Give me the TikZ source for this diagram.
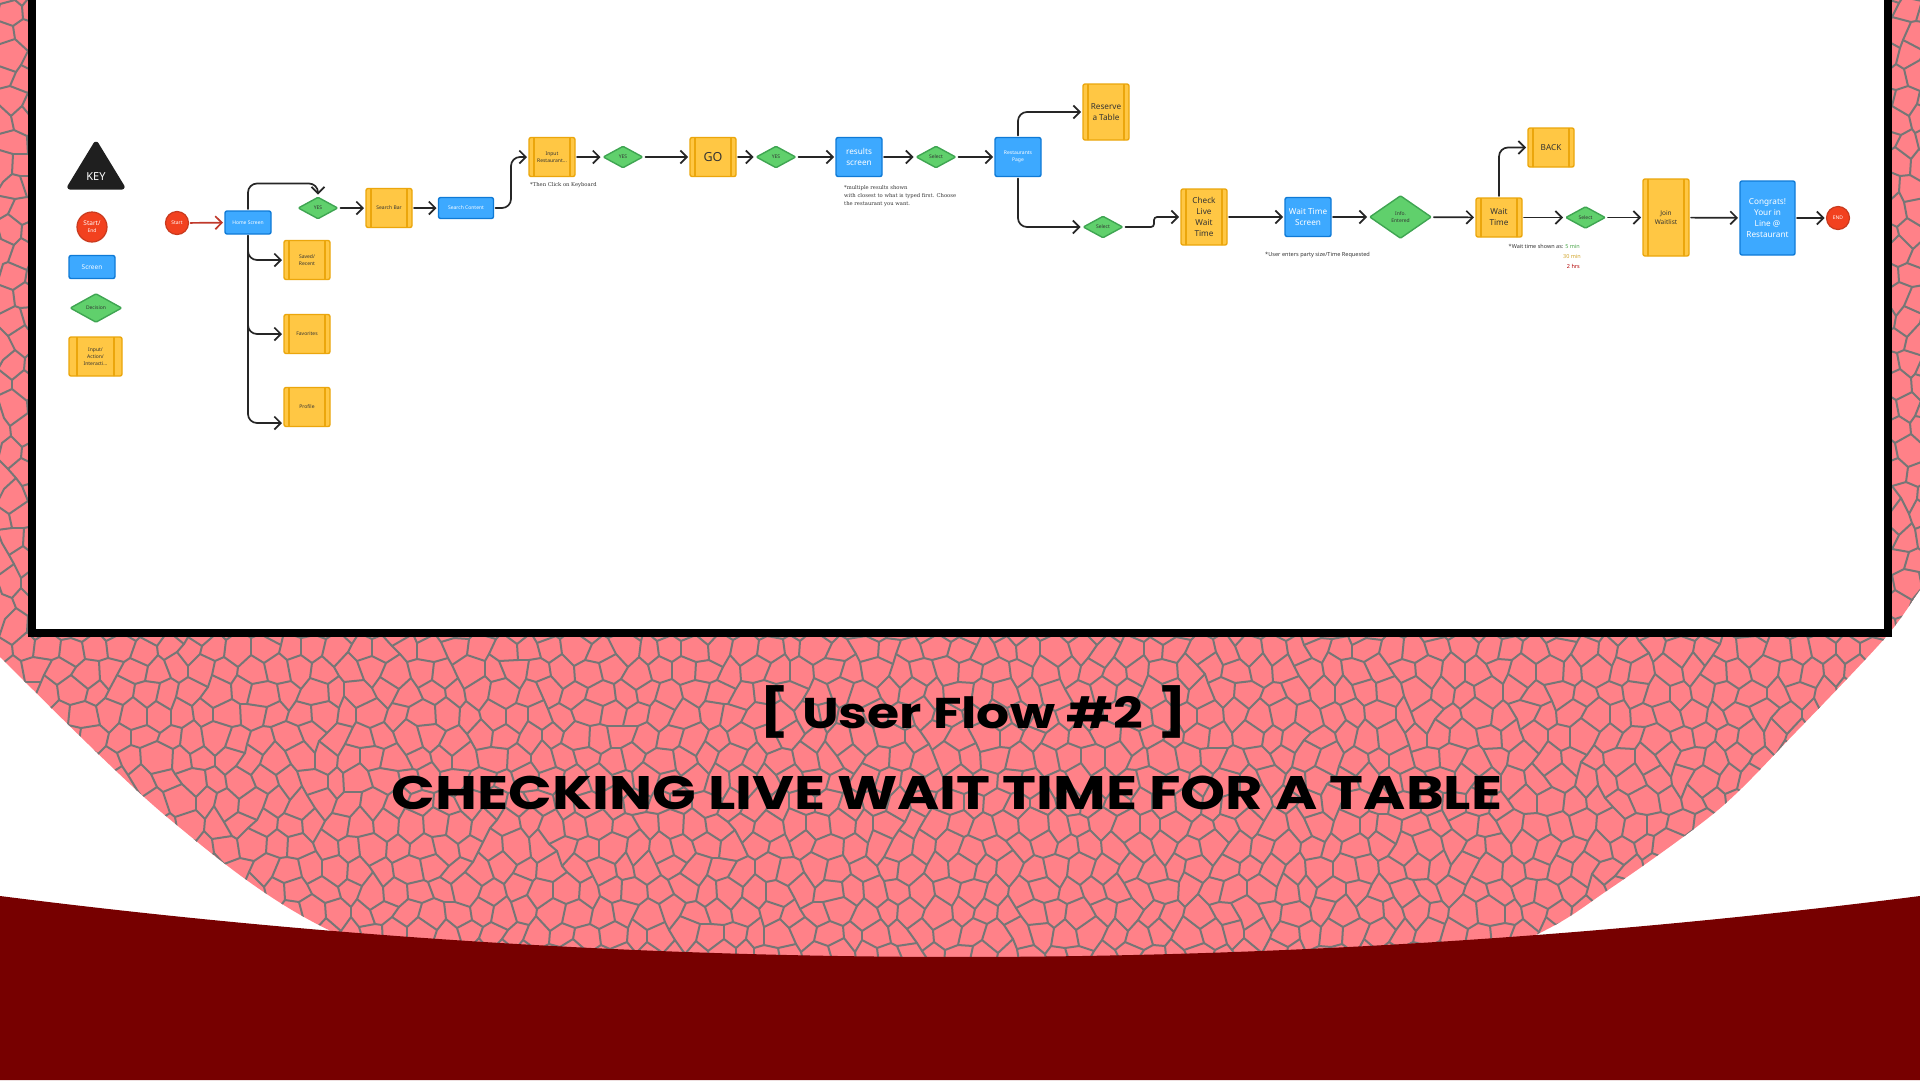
\documentclass[tikz,border=0pt]{standalone}
\usepackage{fontspec}
\setmainfont{Noto Sans}
\newfontfamily\notefont{DejaVu Serif}
\newfontfamily\titlefont{Poppins}
\usetikzlibrary{arrows.meta,shapes.geometric}

\definecolor{cellpink}{HTML}{FF8188}
\definecolor{cellgrey}{HTML}{767676}
\definecolor{darkred}{HTML}{770000}
\definecolor{inputfill}{HTML}{FFC744}
\definecolor{inputedge}{HTML}{EBA60C}
\definecolor{screenfill}{HTML}{3DA9FF}
\definecolor{screenedge}{HTML}{0F7AD6}
\definecolor{decidefill}{HTML}{60D06C}
\definecolor{decideedge}{HTML}{3FA552}
\definecolor{endfill}{HTML}{F2411F}
\definecolor{endedge}{HTML}{C93A1E}
\definecolor{arrowred}{HTML}{C0392B}

% jittered corner of one cell of the mesh
\newcommand{\hashA}[2]{((#1)*(#1)*(#1)*3+(#2)*(#2)*(#2)*7+(#1)*(#2)*11+(#1)*(#1)*(#2)*5+(#1)*29+(#2)*53)}
\newcommand{\hashB}[2]{((#1)*(#1)*(#1)*5+(#2)*(#2)*(#2)*3+(#1)*(#2)*23+(#1)*(#2)*(#2)*7+(#1)*41+(#2)*17)}
\newcommand{\meshx}[2]{\the\numexpr (#1)*12+(\hashA{#1}{#2}-\hashA{#1}{#2}/97*97)/10\relax}
\newcommand{\meshy}[2]{\the\numexpr (#2)*22\ifodd\numexpr(#1)+(#2)\relax-4\else+4\fi
  +(\hashB{#1}{#2}-\hashB{#1}{#2}/97*97)/12\relax}
\newcommand{\meshedges}[2]{%
  \draw[meshline] (\meshx{#1}{#2},\meshy{#1}{#2}) -- (\meshx{(#1+1)}{#2},\meshy{(#1+1)}{#2});
  \ifodd\numexpr#1+#2\relax\else
    \draw[meshline] (\meshx{#1}{#2},\meshy{#1}{#2}) -- (\meshx{#1}{(#2+1)},\meshy{#1}{(#2+1)});
  \fi}

\tikzset{
  meshline/.style={draw=cellgrey,line width=2pt,line join=round},
  boxbase/.style={rounded corners=2pt,line width=1.4pt,inner sep=0pt,outer sep=2pt,
    align=center,minimum width=46pt,minimum height=39pt},
  screenbox/.style={boxbase,fill=screenfill,draw=screenedge,text=white},
  inputbox/.style={boxbase,fill=inputfill,draw=inputedge,text=black!80,
    path picture={
      \draw[inputedge,line width=1.4pt]
        ([xshift=#1pt]path picture bounding box.north west) --
        ([xshift=#1pt]path picture bounding box.south west)
        ([xshift=-#1pt]path picture bounding box.north east) --
        ([xshift=-#1pt]path picture bounding box.south east);}},
  inputbox/.default=5,
  decidebox/.style={diamond,aspect=1.75,rounded corners=1pt,line width=1.4pt,inner sep=0pt,
    outer sep=2pt,align=center,fill=decidefill,draw=decideedge,text=black!80,
    minimum width=41pt,minimum height=23pt},
  endcircle/.style={circle,line width=1.2pt,inner sep=0pt,outer sep=2pt,align=center,
    fill=endfill,draw=endedge,text=white,minimum size=23pt},
  tinytext/.style={font=\fontsize{5}{7}\selectfont},
  midtext/.style={font=\fontsize{6.5}{8.5}\selectfont},
  bigtext/.style={font=\fontsize{8.2}{11}\selectfont},
  flowarrow/.style={draw=black!85,line width=1.7pt,rounded corners=9pt,
    -{Straight Barb[length=6.5pt,width=13pt,line width=1.7pt]}},
  notetext/.style={font=\notefont\fontsize{5.25}{8.3}\selectfont,align=left,text=black!80,inner sep=0pt},
  waittext/.style={font=\fontsize{5.5}{7}\selectfont,anchor=east,inner sep=0pt},
  titletext/.style={font=\titlefont\bfseries,xscale=#1,transform shape},
}

\begin{document}
\begin{tikzpicture}[x=1pt,y=-1pt,line cap=round,line join=round]
  \useasboundingbox (0,0) rectangle (1920,1080);

  % Backdrop: cracked pink disc, frame and dark floor.
  \begin{scope}
    \clip plot[smooth] coordinates {(-30,625) (0,657) (167,817) (333,932) (640,1040)
      (960,1080) (1280,1040) (1525,940) (1608,890) (1718,810) (1795,733) (1885,638)
      (1920,590) (1950,550)} -- (1950,-10) -- (-30,-10) -- cycle;
    \fill[cellpink] (-30,-10) rectangle (1950,1080);
    \foreach \j in {27,...,44} {
      \foreach \i in {0,...,160} {\meshedges{\i}{\j}}
    }
    \foreach \j in {-1,...,26} {
      \foreach \i in {0,1,2,3,157,158,159,160} {\meshedges{\i}{\j}}
    }
  \end{scope}
  \fill[white,draw=black,line width=8pt,line join=miter] (32,-20) rectangle (1888,633);
  \fill[darkred] (0,896) .. controls (640,977.3) and (1280,977.3) .. (1920,896)
    -- (1920,1080) -- (0,1080) -- cycle;

  % Titles
  \node[titletext=1.21] (flowtitle) at (972.5,713) {\fontsize{43}{50}\selectfont User Flow \#2};
  \node[titletext=1.25] (leftbracket) at (774,712) {\fontsize{47}{50}\selectfont [};
  \node[titletext=1.25] (rightbracket) at (1172,712) {\fontsize{47}{50}\selectfont ]};
  \node[titletext=1.22] (tasktitle) at (947,793) {\fontsize{47}{50}\selectfont CHECKING LIVE WAIT TIME FOR A TABLE};

  % Key
  \fill[black!88,draw=black!88,line width=3pt,rounded corners=2pt] (96,142) -- (124,188) -- (68,188) -- cycle;
  \node[text=white,font=\fontsize{11}{13}\selectfont] (keylabel) at (96,177) {KEY};
  \node[endcircle,minimum size=30pt,tinytext] (keyend) at (92,227) {{\fontsize{6.5}{8}\selectfont Start/}\\End};
  \node[screenbox,minimum height=23pt,midtext] (keyscreen) at (92,267) {Screen};
  \node[decidebox,minimum width=53pt,minimum height=30pt,tinytext] (keydecide) at (96,308) {Decision};
  \node[inputbox=8,minimum width=53pt,tinytext] (keyinput) at (95.5,356.5) {Input/\\Action/\\Interacti...};

  % Flow: entry and home branches
  \node[endcircle,tinytext] (start) at (177,223) {Start};
  \node[screenbox,minimum height=23pt,tinytext] (home) at (248,222.5) {Home Screen};
  \node[decidebox,tinytext] (yesa) at (318,208) {YES};
  \node[inputbox,tinytext] (searchbar) at (389,208) {Search Bar};
  \node[screenbox,minimum width=55pt,minimum height=21pt,tinytext] (content) at (466,208) {Search Content};
  \node[inputbox,tinytext] (saved) at (307,260) {Saved/\\Recent};
  \node[inputbox,tinytext] (favorites) at (307,334) {Favorites};
  \node[inputbox,tinytext] (profile) at (307,407) {Profile};

  % Flow: search row
  \node[inputbox,tinytext] (input) at (552,157) {Input\\Restaurant...};
  \node[decidebox,tinytext] (yesb) at (623,157) {YES};
  \node[inputbox,font=\fontsize{12.5}{14}\selectfont] (go) at (713,157) {GO};
  \node[decidebox,tinytext] (yesc) at (776,157) {YES};
  \node[screenbox,bigtext] (results) at (859,157) {results\\screen};
  \node[decidebox,tinytext] (selecta) at (936,157) {Select};
  \node[screenbox,tinytext] (restaurant) at (1018,157) {Restaurants\\Page};
  \node[inputbox,minimum height=56pt,bigtext] (reserve) at (1106,112) {Reserve\\a Table};

  % Flow: wait time row
  \node[decidebox,tinytext] (selectb) at (1103,227) {Select};
  \node[inputbox,minimum height=56pt,bigtext] (check) at (1204,217) {Check\\Live\\Wait\\Time};
  \node[screenbox,bigtext] (waitscreen) at (1308,217) {Wait Time\\Screen};
  \node[decidebox,minimum width=63pt,minimum height=44pt,tinytext] (info) at (1400.5,217) {Info.\\Entered};
  \node[inputbox,bigtext] (waittime) at (1499,217.5) {Wait\\Time};
  \node[inputbox,bigtext] (back) at (1551,147.5) {BACK};
  \node[decidebox,tinytext] (selectc) at (1585.5,217.5) {Select};
  \node[inputbox,minimum height=77pt,midtext] (join) at (1666,217.5) {Join\\Waitlist};
  \node[screenbox,minimum width=55pt,minimum height=74pt,bigtext] (congrats) at (1767.5,218) {Congrats!\\Your in\\Line @\\Restaurant};
  \node[endcircle,tinytext] (finish) at (1838,218) {END};

  % Notes
  \node[notetext,anchor=west] (keyboardnote) at (530,185) {*Then Click on Keyboard};
  \node[notetext,anchor=north west] (resultsnote) at (844,185)
    {*multiple results shown\\with closest to what is typed first. Choose\\the restaurant you want.};
  \node[anchor=west,inner sep=0pt,font=\fontsize{5.6}{7}\selectfont,text=black!80] (partynote) at (1265,255.5)
    {*User enters party size/Time Requested};
  \node[waittext,text=black!80] (waitnote) at (1580,246.5) {*Wait time shown as: {\color{green!50!black!70}5 min}};
  \node[waittext,text=brown!70!yellow] (waitmid) at (1581,256) {30 min};
  \node[waittext,text=red!70!black] (waitlong) at (1580,266) {2 hrs};

  % Connectors
  \draw[flowarrow,draw=arrowred] (start) -- (home);
  \draw[flowarrow] (home.north) |- ([yshift=11pt]yesa.north) -- (yesa.north);
  \draw[flowarrow] (home.south) |- (saved.west);
  \draw[flowarrow] (home.south) |- (favorites.west);
  \draw[flowarrow] (home.south) |- ([yshift=-16pt]profile.west);
  \draw[flowarrow] (yesa) -- (searchbar);
  \draw[flowarrow] (searchbar) -- (content);
  \draw[flowarrow] (content.east) -| ([xshift=-16pt]input.west) -- (input.west);
  \draw[flowarrow] (input) -- (yesb);
  \draw[flowarrow] (yesb) -- (go);
  \draw[flowarrow] (go) -- (yesc);
  \draw[flowarrow] (yesc) -- (results);
  \draw[flowarrow] (results) -- (selecta);
  \draw[flowarrow] (selecta) -- (restaurant);
  \draw[flowarrow] (restaurant.north) |- (reserve.west);
  \draw[flowarrow] (restaurant.south) |- (selectb.west);
  \draw[flowarrow,rounded corners=3pt] (selectb.east) -| ([xshift=-25pt]check.west) -- (check.west);
  \draw[flowarrow] (check) -- (waitscreen);
  \draw[flowarrow] (waitscreen) -- (info);
  \draw[flowarrow] (info) -- (waittime);
  \draw[flowarrow] (waittime.north) |- (back.west);
  \draw[flowarrow] (waittime) -- (selectc);
  \draw[flowarrow] (selectc) -- (join);
  \draw[flowarrow] (join) -- (congrats);
  \draw[flowarrow] (congrats) -- (finish);
\end{tikzpicture}
\end{document}
